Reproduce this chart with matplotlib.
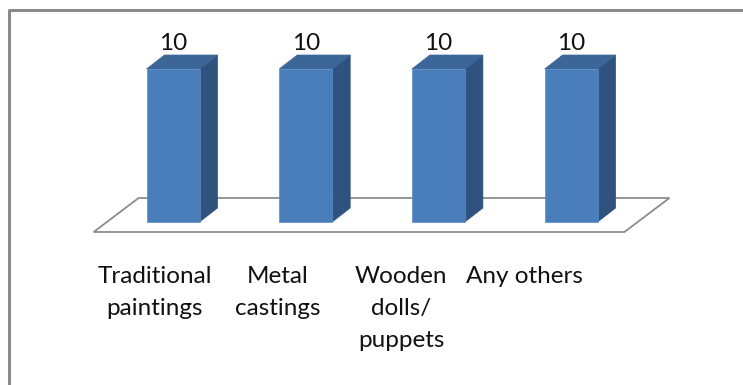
import matplotlib
matplotlib.use("Agg")
import matplotlib.pyplot as plt
import matplotlib.transforms as mtransforms
from matplotlib.patches import Polygon
from matplotlib.lines import Line2D

# Chart data
categories = ["Traditional\npaintings", "Metal\ncastings", "Wooden\ndolls/\npuppets", "Any others"]
values = [10, 10, 10, 10]

FRONT = "#4A7EBB"
SIDE = "#30527F"
TOP = "#3C6698"
FLOOR_EDGE = "#8C8C8C"
FONT = ["Lato", "DejaVu Sans"]
FS = 17.5

W, H, DPI = 743, 385, 100
fig = plt.figure(figsize=(W / DPI, H / DPI), dpi=DPI)
fig.patch.set_facecolor("white")

# Plot area in pixels: one category slot is ~132.7 px, value axis spans 153 px for 0..10
slot = 132.7
left_px = 173 - 0.5 * slot
base_px = 222
top_px = 69
ax = fig.add_axes([left_px / W, (H - base_px) / H, 4 * slot / W, (base_px - top_px) / H])
ax.set_xlim(-0.5, 3.5)
ax.set_ylim(0, 10)
ax.axis("off")

bar_w = 53 / slot
dx, dy = 18, 14  # depth of the 3D bar in pixels


def shifted(ox, oy):
    return ax.transData + mtransforms.ScaledTranslation(ox / DPI, oy / DPI, fig.dpi_scale_trans)


# Floor of the 3D plot area
floor_front = shifted(-13, -10)
floor_back = shifted(-13 + 45, -10 + 34)
pts_front = [floor_front.transform((-0.5, 0)), floor_front.transform((3.5, 0))]
pts_back = [floor_back.transform((3.5, 0)), floor_back.transform((-0.5, 0))]
floor = Polygon(pts_front + pts_back, closed=True, transform=None,
                facecolor="white", edgecolor=FLOOR_EDGE, linewidth=1.3, zorder=1)
fig.patches.append(floor)
floor.set_figure(fig)

# Bars
back_t = shifted(dx, dy)
for i, v in enumerate(values):
    x0, x1 = i - bar_w / 2, i + bar_w / 2
    fr = [ax.transData.transform(p) for p in [(x0, 0), (x1, 0), (x1, v), (x0, v)]]
    bk = [back_t.transform(p) for p in [(x0, 0), (x1, 0), (x1, v), (x0, v)]]
    side = Polygon([fr[1], bk[1], bk[2], fr[2]], closed=True, transform=None,
                   facecolor=SIDE, edgecolor=SIDE, linewidth=0.5, zorder=3)
    top = Polygon([fr[3], fr[2], bk[2], bk[3]], closed=True, transform=None,
                  facecolor=TOP, edgecolor=TOP, linewidth=0.5, zorder=3)
    front = Polygon(fr, closed=True, transform=None,
                    facecolor=FRONT, edgecolor="#5A8CC8", linewidth=0.5, zorder=4)
    for p in (side, top, front):
        p.set_figure(fig)
        fig.patches.append(p)
    ax.annotate(str(v), xy=(i, v), xytext=(0, 26), textcoords="offset pixels",
                ha="center", va="center", fontsize=FS, family=FONT, color="#111111",
                annotation_clip=False)

# Category labels under the floor
for i, lab in enumerate(categories):
    lx = i * (123 / slot) - 18 / slot
    ax.annotate(lab, xy=(lx, 0), xytext=(0, -44), textcoords="offset pixels",
                ha="center", va="top", multialignment="center", fontsize=FS,
                family=FONT, color="#111111", linespacing=1.64, annotation_clip=False)

# Chart border (top and left edges)
fig.lines.append(Line2D([9 / W, 9 / W, 1], [0, (H - 10) / H, (H - 10) / H],
                        transform=fig.transFigure, color="#8A8A8A", linewidth=2.2))

fig.savefig("out.png", dpi=DPI, facecolor="white")
